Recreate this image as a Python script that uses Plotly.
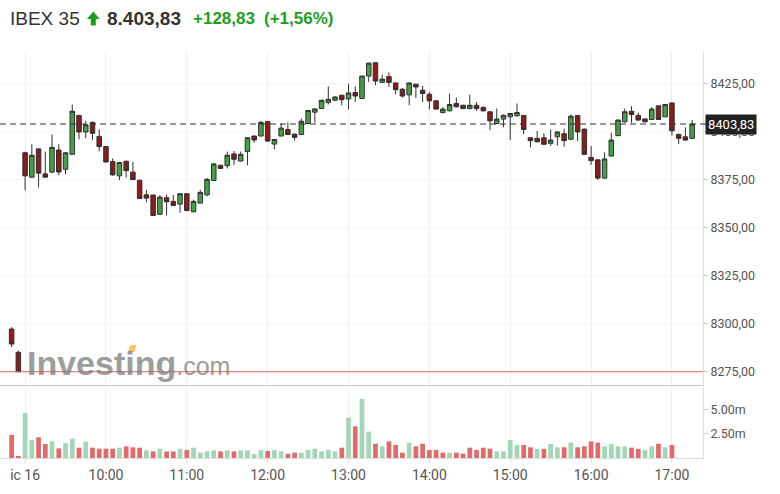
import plotly.graph_objects as go

# ---------------- data ----------------
prev_times = ["13 17:25", "13 17:30"]
day_times = [f"16 {h:02d}:{m:02d}" for h in range(9, 18) for m in range(0, 60, 5)][:100]
times = prev_times + day_times

opens = [8297.2, 8285.1,
    8388.9, 8376.2, 8390.9, 8377.9, 8378.8, 8390.3, 8380.3, 8388.1, 8408.3, 8399.7,
    8404.7, 8397.4, 8392.1, 8384.3, 8376.9, 8384.5, 8378.8, 8374.6, 8367.0, 8366.9,
    8356.9, 8365.5, 8363.6, 8362.2, 8367.6, 8358.2, 8362.7, 8367.0, 8374.5, 8382.4,
    8382.2, 8388.3, 8384.6, 8389.5, 8397.6, 8397.6, 8405.2, 8393.4, 8397.6, 8401.0,
    8398.6, 8398.4, 8404.1, 8410.0, 8411.9, 8415.0, 8416.2, 8418.8, 8416.9, 8420.2,
    8417.1, 8428.8, 8435.7, 8425.5, 8428.5, 8425.2, 8421.9, 8419.0, 8424.5, 8421.4,
    8419.3, 8415.9, 8409.8, 8410.7, 8414.5, 8413.6, 8411.9, 8413.6, 8412.4, 8410.2,
    8404.1, 8406.4, 8407.6, 8408.1, 8408.3, 8396.7, 8396.4, 8396.7, 8393.8, 8397.2,
    8398.8, 8395.9, 8408.3, 8401.2, 8386.5, 8385.2, 8375.7, 8387.2, 8397.8, 8405.0,
    8410.5, 8408.3, 8406.5, 8406.2, 8413.3, 8407.6, 8414.8, 8398.4, 8397.2, 8396.4]
highs = [8298.2, 8286.0,
    8389.5, 8393.3, 8391.2, 8389.5, 8398.4, 8393.3, 8389.1, 8414.0, 8408.6, 8405.5,
    8405.0, 8401.0, 8392.4, 8386.0, 8383.9, 8384.7, 8384.1, 8374.8, 8369.6, 8367.0,
    8366.9, 8367.2, 8366.9, 8367.7, 8367.7, 8364.5, 8369.6, 8375.7, 8383.4, 8382.6,
    8389.5, 8389.8, 8389.5, 8396.9, 8397.8, 8405.5, 8405.3, 8396.1, 8404.1, 8404.7,
    8398.9, 8406.7, 8410.9, 8411.9, 8416.5, 8423.4, 8418.2, 8419.1, 8424.8, 8423.4,
    8428.8, 8435.7, 8435.8, 8429.5, 8430.7, 8425.4, 8422.6, 8425.4, 8424.8, 8423.6,
    8420.5, 8416.2, 8412.7, 8419.7, 8417.6, 8413.9, 8419.1, 8415.3, 8413.1, 8410.5,
    8411.9, 8408.8, 8409.4, 8414.5, 8408.5, 8396.9, 8400.2, 8399.0, 8401.0, 8400.0,
    8401.4, 8408.8, 8408.5, 8401.4, 8392.4, 8385.5, 8389.1, 8399.3, 8406.2, 8411.9,
    8413.1, 8409.8, 8406.7, 8412.7, 8413.4, 8414.2, 8415.0, 8398.9, 8402.1, 8405.9]
lows = [8287.8, 8274.8,
    8369.3, 8375.7, 8370.8, 8376.0, 8378.5, 8377.2, 8377.7, 8388.0, 8395.9, 8396.5,
    8395.5, 8389.6, 8383.8, 8376.9, 8374.6, 8376.0, 8374.6, 8365.0, 8363.1, 8356.2,
    8356.5, 8356.3, 8361.4, 8357.7, 8358.7, 8357.9, 8362.6, 8366.2, 8374.4, 8380.4,
    8380.7, 8382.6, 8384.3, 8382.4, 8394.1, 8397.5, 8394.5, 8390.7, 8397.5, 8398.1,
    8395.2, 8398.3, 8403.8, 8404.5, 8411.8, 8414.0, 8415.9, 8413.6, 8411.5, 8415.3,
    8417.0, 8425.7, 8424.0, 8425.2, 8423.1, 8419.3, 8417.6, 8413.6, 8417.4, 8415.3,
    8411.4, 8411.5, 8409.5, 8410.5, 8412.5, 8411.5, 8411.5, 8410.7, 8410.4, 8400.7,
    8403.8, 8402.1, 8395.5, 8407.8, 8398.6, 8391.7, 8394.3, 8393.0, 8392.6, 8392.6,
    8392.1, 8395.5, 8395.0, 8387.7, 8382.6, 8374.8, 8375.3, 8386.9, 8397.5, 8404.6,
    8404.5, 8405.4, 8404.7, 8405.9, 8406.1, 8407.5, 8397.9, 8393.4, 8395.1, 8396.2]
closes = [8289.4, 8275.0,
    8376.9, 8387.6, 8378.3, 8376.2, 8391.7, 8378.9, 8388.9, 8410.5, 8399.7, 8403.5,
    8399.0, 8392.1, 8384.1, 8377.4, 8383.8, 8379.6, 8375.0, 8365.1, 8365.3, 8356.3,
    8365.8, 8363.4, 8361.5, 8367.6, 8358.8, 8363.6, 8368.3, 8375.1, 8383.1, 8380.7,
    8387.6, 8385.5, 8388.1, 8396.7, 8395.5, 8404.7, 8395.0, 8395.8, 8401.7, 8398.4,
    8396.9, 8405.3, 8410.9, 8411.7, 8416.2, 8416.7, 8417.9, 8416.5, 8420.0, 8418.4,
    8428.8, 8435.5, 8426.2, 8427.2, 8425.5, 8421.7, 8418.4, 8425.2, 8423.1, 8419.7,
    8415.9, 8411.6, 8411.6, 8414.0, 8412.8, 8411.9, 8413.6, 8411.9, 8410.7, 8405.5,
    8406.4, 8408.4, 8409.3, 8409.8, 8401.0, 8395.2, 8394.6, 8393.3, 8395.5, 8399.7,
    8395.2, 8407.9, 8399.7, 8388.1, 8384.8, 8375.7, 8385.7, 8395.5, 8405.9, 8410.2,
    8408.8, 8405.9, 8405.0, 8411.6, 8406.2, 8414.0, 8400.3, 8396.4, 8395.5, 8403.83]

# volume in millions, and direction (1 = up, 0 = down)
volumes = [2.37, 0.13,
    4.64, 1.85, 2.13, 1.44, 1.72, 0.99, 1.54, 1.99, 1.06, 1.68,
    1.06, 0.96, 0.96, 0.96, 1.06, 1.20, 1.10, 1.06, 0.79, 0.68,
    0.96, 0.68, 0.68, 0.96, 0.82, 1.06, 0.55, 0.68, 0.79, 0.68,
    0.79, 0.68, 0.79, 0.79, 0.41, 0.82, 0.72, 0.82, 0.68, 0.44,
    0.55, 0.55, 0.82, 0.96, 0.68, 0.82, 0.68, 1.06, 4.15, 3.26,
    6.08, 2.71, 1.47, 1.20, 1.71, 1.34, 0.55, 1.58, 1.20, 1.47,
    0.82, 0.82, 0.55, 0.55, 0.55, 0.44, 1.06, 0.82, 1.06, 0.96,
    0.68, 0.68, 1.85, 1.34, 1.34, 1.10, 0.93, 0.93, 1.44, 1.10,
    1.10, 1.58, 1.10, 1.20, 1.71, 1.58, 1.20, 1.44, 1.20, 1.20,
    1.06, 0.93, 0.82, 1.20, 1.47, 1.10, 1.34, None, None, None]
vol_up = [0, 0,
    1, 1, 0, 0, 1, 0, 1, 1, 0, 1,
    0, 0, 0, 0, 1, 0, 0, 0, 1, 0,
    1, 0, 0, 1, 0, 1, 1, 1, 1, 0,
    1, 0, 1, 1, 1, 1, 0, 1, 1, 0,
    0, 1, 1, 1, 1, 1, 1, 0, 1, 0,
    1, 1, 0, 1, 0, 0, 0, 1, 0, 0,
    0, 0, 0, 1, 0, 0, 0, 0, 0, 0,
    1, 1, 1, 1, 0, 0, 1, 0, 1, 1,
    0, 1, 0, 0, 0, 0, 1, 1, 1, 1,
    0, 0, 1, 1, 0, 1, 0, 0, 0, 0]

hour_ticks = ["16 09:00", "16 10:00", "16 11:00", "16 12:00", "16 13:00",
              "16 14:00", "16 15:00", "16 16:00", "16 17:00"]
hour_labels = ["ic 16", "10:00", "11:00", "12:00", "13:00", "14:00", "15:00", "16:00", "17:00"]
price_ticks = [8275, 8300, 8325, 8350, 8375, 8400, 8425]
price_labels = ["8275,00", "8300,00", "8325,00", "8350,00", "8375,00", "8400,00", "8425,00"]
vol_ticks = [2.5, 5.0]
vol_labels = ["2.50m", "5.00m"]

last_price = 8403.83
prev_close = 8275.00
title_name = "IBEX 35"
title_last = "8.403,83"
title_chg = "+128,83"
title_pct = "(+1,56%)"
last_label = "8403,83"

# ---------------- layout helpers ----------------
W, H = 780, 494
ML, MR, MT, MB = 0, 77, 52, 36
PW = W - ML - MR
PH = H - MT - MB


def px(x):
    return (x - ML) / PW


def py(y):
    return (H - MB - y) / PH


GREEN_V = "#a3d6b6"
RED_V = "#e26a6a"
vol_colors = [GREEN_V if u else RED_V for u in vol_up]

xr = [-1.725, 102.61]

fig = go.Figure()
fig.add_trace(go.Bar(
    x=times, y=volumes, marker=dict(color=vol_colors, line=dict(width=0)),
    xaxis="x", yaxis="y2", hoverinfo="skip", showlegend=False))
fig.add_trace(go.Candlestick(
    x=times, open=opens, high=highs, low=lows, close=closes,
    xaxis="x2", yaxis="y",
    increasing=dict(fillcolor="#45a045", line=dict(color="#303030", width=1)),
    decreasing=dict(fillcolor="#8c1b1b", line=dict(color="#303030", width=1)),
    whiskerwidth=0, hoverinfo="skip", showlegend=False))

axfont = dict(family="Roboto, Arial, sans-serif", size=14, color="#555")
fig.update_layout(
    width=W, height=H, margin=dict(l=ML, r=MR, t=MT, b=MB),
    paper_bgcolor="white", plot_bgcolor="white",
    bargap=0.3, boxgap=0.33, boxgroupgap=0,
    showlegend=False,
    xaxis=dict(domain=[0, 1], anchor="y2", type="category", categoryorder="array",
               categoryarray=times, range=xr, tickvals=hour_ticks, ticktext=hour_labels,
               tickfont=axfont, showgrid=True, gridcolor="#efefef", showline=True,
               linecolor="#dddddd", ticks="outside", ticklen=4, tickcolor="#dddddd",
               zeroline=False, rangeslider=dict(visible=False), fixedrange=True),
    xaxis2=dict(domain=[0, 1], anchor="y", type="category", categoryorder="array",
                categoryarray=times, range=xr, tickvals=hour_ticks, showticklabels=False,
                showgrid=True, gridcolor="#efefef", showline=True, linecolor="#c8c8c8",
                ticks="", zeroline=False, rangeslider=dict(visible=False), fixedrange=True),
    yaxis=dict(domain=[py(385), 1], anchor="x2", side="right", range=[8268.1, 8441.3],
               tickvals=price_ticks, ticktext=price_labels,
               tickfont=dict(family="Roboto, Arial, sans-serif", size=12.5, color="#555"),
               showgrid=True, gridcolor="#f5f5f5", showline=True, linecolor="#dddddd",
               ticks="outside", ticklen=4, tickcolor="#cccccc", zeroline=False, fixedrange=True),
    yaxis2=dict(domain=[0, py(388)], anchor="x", side="right", range=[0, 7.2],
                tickvals=vol_ticks, ticktext=vol_labels,
                tickfont=dict(family="Roboto, Arial, sans-serif", size=12.5, color="#555"),
                showgrid=False, showline=True, linecolor="#dddddd",
                ticks="outside", ticklen=4, tickcolor="#cccccc", zeroline=False, fixedrange=True),
)

shapes = [
    dict(type="line", xref="paper", yref="y", x0=0, x1=1, y0=prev_close, y1=prev_close,
         line=dict(color="#dc6464", width=1), layer="above"),
    dict(type="line", xref="paper", yref="y", x0=0, x1=1.006, y0=last_price, y1=last_price,
         line=dict(color="#333", width=1, dash="6px,4px")),
]
# green up arrow in the header
arrow_pts = [(93.3, 11.5), (87.0, 19.0), (90.8, 19.0), (90.8, 25.5),
             (95.8, 25.5), (95.8, 19.0), (99.6, 19.0)]
path = "M " + " L ".join(f"{px(a):.5f},{py(b):.5f}" for a, b in arrow_pts) + " Z"
shapes.append(dict(type="path", xref="paper", yref="paper", path=path,
                   fillcolor="#1e9e1e", line=dict(width=0)))
# small orange accent of the watermark logo
accent_pts = [(129.5, 346.0), (136.0, 344.5), (135.0, 351.5), (128.5, 352.5)]
path2 = "M " + " L ".join(f"{px(a):.5f},{py(b):.5f}" for a, b in accent_pts) + " Z"
shapes.append(dict(type="path", xref="paper", yref="paper", path=path2,
                   fillcolor="#f5b041", opacity=0.8, line=dict(width=0)))
fig.update_layout(shapes=shapes)

tfont = "Liberation Sans, Arial, sans-serif"
ann = [
    dict(text=title_name, x=px(8), y=py(18), xanchor="left", yanchor="middle",
         font=dict(family=tfont, size=19, color="#333")),
    dict(text=f"<b>{title_last}</b>", x=px(105), y=py(18), xanchor="left", yanchor="middle",
         font=dict(family=tfont, size=19, color="#333")),
    dict(text=f"<b>{title_chg}</b>", x=px(191), y=py(18), xanchor="left", yanchor="middle",
         font=dict(family=tfont, size=17, color="#1e9e1e")),
    dict(text=f"<b>{title_pct}</b>", x=px(262), y=py(18), xanchor="left", yanchor="middle",
         font=dict(family=tfont, size=17, color="#1e9e1e")),
    dict(text=last_label, x=1, xshift=2, y=last_price, yref="y", xanchor="left", yanchor="middle",
         bgcolor="#222222", borderpad=2, showarrow=False,
         font=dict(family="Roboto, Arial, sans-serif", size=13, color="white")),
    dict(text="<b>Investing</b><span style='font-size:25px;font-weight:normal'>.com</span>",
         x=px(25), y=py(363), xanchor="left", yanchor="middle", opacity=0.75,
         font=dict(family=tfont, size=34, color="#7d7d7d")),
]
for a in ann:
    a.setdefault("xref", "paper")
    a.setdefault("yref", "paper")
    a["showarrow"] = False
fig.update_layout(annotations=ann)

fig.write_html("out.html", config={"displayModeBar": False},
               post_script="document.body.style.margin='0';")
